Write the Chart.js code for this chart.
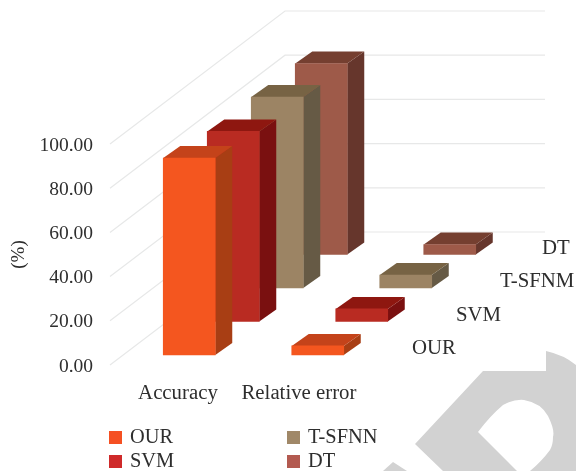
<!DOCTYPE html>
<html>
<head>
<meta charset="utf-8">
<title>Accuracy and relative error by model</title>
<script src="https://cdn.jsdelivr.net/npm/chart.js@4"></script>
<style>
  html, body { margin: 0; padding: 0; background: #fff; }
  #stage { position: relative; width: 576px; height: 471px; overflow: hidden; }
  #stamp, #chart { position: absolute; left: 0; top: 0; }
</style>
</head>
<body>
<div id="stage">
  <svg id="stamp" width="576" height="471" viewBox="0 0 576 471" aria-hidden="true">
    <path fill="#D2D2D2" fill-rule="evenodd" d="M415 444 L483 371 L546 371 L546 351 Q564 355 576 365 L576 471 L443 471 Z
      M478 432 Q490 416 503 405 Q514 399 524 400 Q541 403 548 416 Q555 430 553 437 Q553 445 550 450 Q541 462 530 471 L517 471 Z"/>
    <path fill="#D2D2D2" d="M393 462 L407 471 L383 471 Z"/>
  </svg>
  <canvas id="chart" width="576" height="471"></canvas>
</div>
<script>
// Model scores, one list per model: [Accuracy, Relative error]
const categories = ['Accuracy', 'Relative error'];
const seriesNames = ['OUR', 'SVM', 'T-SFNN', 'DT'];
const ourValues = [89.1, 4.1];
const svmValues = [86.0, 5.7];
const tsfnnValues = [86.4, 5.9];
const dtValues = [86.4, 4.5];
const depthLabels = ['OUR', 'SVM', 'T-SFNM', 'DT'];

// Face shades per model
const frontColors = ['#F4561F', '#B92B22', '#9C8464', '#9E5A49'];
const topColors = ['#C4431A', '#8E1710', '#776344', '#753F30'];
const sideColors = ['#A83E14', '#7A1010', '#665A45', '#66362C'];
const legendColors = ['#F55022', '#CF2A2A', '#A08868', '#B35A50'];

const textColor = '#2E2E2E';
const serif = '"Liberation Serif", serif';

// Oblique projection used for the floor, the walls and the rows of bars
const wall = { dx: 175, dy: -133, right: 545 };
const row = { startX: 15, startY: -10, stepX: 44, stepY: -33.5 };
const barDepth = { dx: 17, dy: -12 };
const labelNudge = [3.7, -3.8];

function poly(ctx, color, pts) {
  ctx.fillStyle = color;
  ctx.beginPath();
  pts.forEach((p, i) => i ? ctx.lineTo(p[0], p[1]) : ctx.moveTo(p[0], p[1]));
  ctx.closePath();
  ctx.fill();
}

const wallGrid = {
  id: 'wallGrid',
  beforeDatasetsDraw(chart) {
    const { ctx, scales: { y }, chartArea } = chart;
    ctx.save();
    ctx.strokeStyle = '#E7E8E8';
    ctx.lineWidth = 1.2;
    y.ticks.forEach(t => {
      const py = y.getPixelForValue(t.value);
      ctx.beginPath();
      ctx.moveTo(chartArea.left, py);
      ctx.lineTo(chartArea.left + wall.dx, py + wall.dy);
      ctx.lineTo(wall.right, py + wall.dy);
      ctx.stroke();
    });
    ctx.restore();
  }
};

// Shifts each model onto its own row and adds the top and side faces;
// the library still paints the front face of every bar.
const extrudedBars = {
  id: 'extrudedBars',
  beforeDatasetDraw(chart, { index, meta }) {
    const { ctx } = chart;
    ctx.save();
    ctx.translate(row.startX + row.stepX * index, row.startY + row.stepY * index);
    meta.data.forEach(el => {
      const { x, y, base, width } = el.getProps(['x', 'y', 'base', 'width'], true);
      const l = x - width / 2, r = x + width / 2;
      const { dx, dy } = barDepth;
      poly(ctx, sideColors[index], [[r, y], [r + dx, y + dy], [r + dx, base + dy], [r, base]]);
      poly(ctx, topColors[index], [[l, y], [l + dx, y + dy], [r + dx, y + dy], [r, y]]);
    });
  },
  afterDatasetDraw(chart) {
    chart.ctx.restore();
  }
};

// Row names beside the bars and the two-column key under the chart
const annotations = {
  id: 'annotations',
  afterDraw(chart) {
    const { ctx, chartArea, scales: { y } } = chart;
    ctx.save();
    ctx.fillStyle = textColor;
    ctx.textBaseline = 'middle';
    ctx.textAlign = 'left';
    ctx.font = '20.8px ' + serif;
    depthLabels.forEach((name, i) => {
      ctx.fillText(name, chartArea.right + 45 + row.stepX * i - (i === 3 ? 2 : 0),
        y.getPixelForValue(0) - 16 + row.stepY * i);
    });
    ctx.font = '20.4px ' + serif;
    const columns = [109, 287];
    const rows = [431, 455];
    chart.data.datasets.forEach((ds, i) => {
      const cx = columns[i > 1 ? 1 : 0];
      const cy = rows[i % 2];
      ctx.fillStyle = legendColors[i];
      ctx.fillRect(cx, cy, 13, 13);
      ctx.fillStyle = textColor;
      ctx.fillText(ds.label, cx + 21, cy + 6.5);
    });
    ctx.restore();
  }
};

const valueLists = [ourValues, svmValues, tsfnnValues, dtValues];

new Chart(document.getElementById('chart'), {
  type: 'bar',
  data: {
    labels: categories,
    datasets: seriesNames.map((name, i) => ({
      label: name,
      data: valueLists[i],
      backgroundColor: frontColors[i],
      borderWidth: 0,
      clip: false
    }))
  },
  plugins: [wallGrid, extrudedBars, annotations],
  options: {
    responsive: false,
    animation: false,
    events: [],
    datasets: { bar: { grouped: false, barThickness: 52 } },
    layout: { padding: { top: 144, right: 209, left: 0, bottom: 0 } },
    plugins: { legend: { display: false }, title: { display: false }, tooltip: { enabled: false } },
    scales: {
      x: {
        grid: { display: false },
        border: { display: false },
        ticks: {
          color: textColor,
          font: { family: serif, size: 20.8 },
          padding: 8,
          maxRotation: 0,
          autoSkip: false
        },
        afterFit(scale) { scale.height = 106; },
        afterUpdate(scale) {
          const base = Object.getPrototypeOf(scale).getPixelForTick;
          scale.getPixelForTick = i => base.call(scale, i) + labelNudge[i];
        }
      },
      y: {
        min: 0,
        max: 100,
        grid: { display: false },
        border: { display: false },
        ticks: {
          stepSize: 20,
          color: textColor,
          padding: 9,
          labelOffset: 1.5,
          font: { family: serif, size: 19.5 },
          callback: v => v.toFixed(2)
        },
        title: {
          display: true,
          text: '(%)',
          color: textColor,
          font: { family: serif, size: 19 },
          padding: { top: 8, bottom: 0 }
        },
        afterFit(scale) { scale.width = 110; }
      }
    }
  }
});
</script>
</body>
</html>
